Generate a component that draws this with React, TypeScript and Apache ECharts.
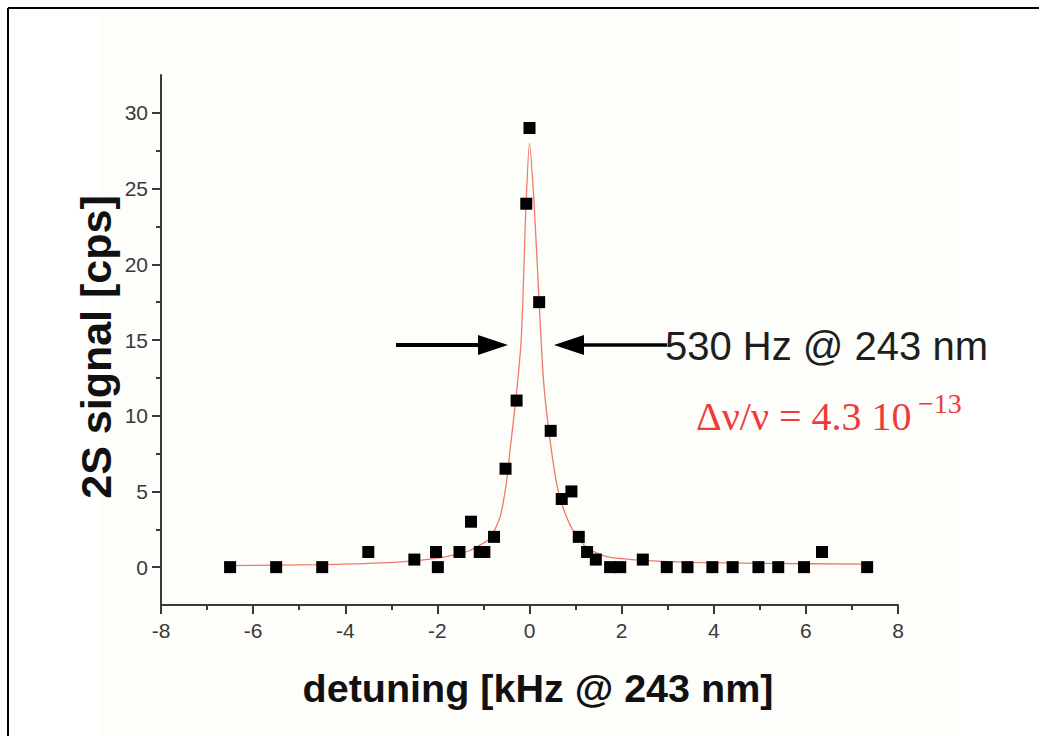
import { useEffect, useRef } from "react";
import * as echarts from "echarts";

// measured points: detuning [kHz] and 2S signal [cps]
const DETUNING = [
  -6.5, -5.5, -4.5, -3.5, -2.5, -2.03, -1.99, -1.52, -1.27, -1.08, -0.98, -0.77, -0.52, -0.28, -0.07, 0.0,
  0.21, 0.46, 0.7, 0.91, 1.07, 1.25, 1.44, 1.75, 1.97, 2.46, 2.98, 3.43, 3.97, 4.41, 4.97, 5.4, 5.96, 6.35, 7.33,
];
const SIGNAL = [
  0, 0, 0, 1, 0.5, 1, 0, 1, 3, 1, 1, 2, 6.5, 11, 24, 29,
  17.5, 9, 4.5, 5, 2, 1, 0.5, 0, 0, 0.5, 0, 0, 0, 0, 0, 0, 0, 1, 0,
];

// fitted line
const FIT_X = [
  -6.6, -5.5, -4.5, -3.5, -2.5, -2.0, -1.5, -1.29, -1.05, -0.86, -0.64, -0.51, -0.42, -0.3, -0.18, -0.08, 0.0,
  0.1, 0.21, 0.3, 0.42, 0.59, 0.72, 0.94, 1.24, 1.68, 2.46, 3.5, 5.0, 7.4,
];
const FIT_Y = [
  0.1, 0.13, 0.17, 0.25, 0.42, 0.6, 0.9, 1.1, 1.5, 1.9, 3.3, 5.4, 7.8, 11, 15, 23.5, 28,
  24, 17.5, 12.5, 9, 5.5, 4.0, 2.45, 1.3, 0.7, 0.45, 0.32, 0.25, 0.2,
];

const X_TICKS = [-8, -6, -4, -2, 0, 2, 4, 6, 8];
const Y_TICKS = [0, 5, 10, 15, 20, 25, 30];
const Y_MINOR_TICKS = [2.5, 7.5, 12.5, 17.5, 22.5, 27.5];

const X_LABEL = "detuning [kHz @ 243 nm]";
const Y_LABEL = "2S signal [cps]";
const WIDTH_NOTE = "530 Hz @ 243 nm";
const RATIO_NOTE = "\u0394\u03bd/\u03bd = 4.3 10";
const RATIO_EXP = "\u221213";

const AXIS_COLOR = "#3a3a3a";
const SANS = "Arial, 'Liberation Sans', Helvetica, sans-serif";
const SERIF = "'Times New Roman', 'Liberation Serif', serif";

export default function App() {
  const ref = useRef<HTMLDivElement>(null);

  useEffect(() => {
    document.body.style.margin = "0";
    if (!ref.current) return;
    const chart = echarts.init(ref.current, null, { renderer: "svg" });

    const points = DETUNING.map((x, i) => [x, SIGNAL[i]]);
    const fit = FIT_X.map((x, i) => [x, FIT_Y[i]]);

    const tickLabel = {
      fontSize: 21,
      color: "#3a3a3a",
      fontFamily: SANS,
    };

    chart.setOption({
      animation: false,
      backgroundColor: "#ffffff",
      grid: { left: 161, right: 141, top: 75, bottom: 131, containLabel: false },
      xAxis: {
        type: "value",
        min: -8,
        max: 8,
        interval: 2,
        axisLine: { show: true, onZero: false, lineStyle: { color: AXIS_COLOR, width: 2 } },
        axisTick: { show: true, length: 9, lineStyle: { color: AXIS_COLOR, width: 2 } },
        minorTick: { show: true, splitNumber: 2, length: 5, lineStyle: { color: AXIS_COLOR, width: 2 } },
        axisLabel: { ...tickLabel, margin: 15, customValues: X_TICKS },
        splitLine: { show: false },
        minorSplitLine: { show: false },
      },
      yAxis: [
        {
          type: "value",
          min: -2.5,
          max: 32.5,
          position: "left",
          axisLine: { show: true, onZero: false, lineStyle: { color: AXIS_COLOR, width: 2 } },
          axisTick: { show: true, length: 9, customValues: Y_TICKS, lineStyle: { color: AXIS_COLOR, width: 2 } },
          axisLabel: { ...tickLabel, margin: 13, customValues: Y_TICKS },
          splitLine: { show: false },
        },
        {
          type: "value",
          min: -2.5,
          max: 32.5,
          position: "left",
          offset: 0,
          axisLine: { show: false, onZero: false },
          axisTick: { show: true, length: 5, customValues: Y_MINOR_TICKS, lineStyle: { color: AXIS_COLOR, width: 2 } },
          axisLabel: { show: false },
          splitLine: { show: false },
        },
      ],
      series: [
        {
          type: "line",
          data: fit,
          showSymbol: false,
          smooth: 0.25,
          lineStyle: { color: "#f07a68", width: 1.3 },
          z: 2,
        },
        {
          type: "scatter",
          data: points,
          symbol: "rect",
          symbolSize: 12,
          itemStyle: { color: "#000", opacity: 1 },
          z: 3,
        },
      ],
      graphic: [
        // background tint
        {
          type: "rect",
          z: -10,
          silent: true,
          shape: { x: 100, y: 12, width: 860, height: 724 },
          style: { fill: "#fdfdfa" },
        },
        // frame
        {
          type: "line",
          shape: { x1: 8, y1: 8, x2: 1039, y2: 8 },
          style: { stroke: "#000", lineWidth: 2 },
        },
        {
          type: "line",
          shape: { x1: 8, y1: 8, x2: 8, y2: 736 },
          style: { stroke: "#000", lineWidth: 2 },
        },
        // axis titles
        {
          type: "text",
          x: 96,
          y: 347,
          rotation: Math.PI / 2,
          style: {
            text: Y_LABEL,
            align: "center",
            verticalAlign: "middle",
            font: `bold 43px ${SANS}`,
            fill: "#111",
          },
        },
        {
          type: "text",
          x: 538,
          y: 688,
          style: {
            text: X_LABEL,
            align: "center",
            verticalAlign: "middle",
            font: `bold 39.5px ${SANS}`,
            fill: "#111",
          },
        },
        // arrows
        {
          type: "line",
          shape: { x1: 396, y1: 345, x2: 482, y2: 345 },
          style: { stroke: "#000", lineWidth: 4 },
        },
        {
          type: "polygon",
          shape: { points: [[478, 335], [508, 345], [478, 355]] },
          style: { fill: "#000" },
        },
        {
          type: "polygon",
          shape: { points: [[584, 335], [554, 345], [584, 355]] },
          style: { fill: "#000" },
        },
        {
          type: "line",
          shape: { x1: 580, y1: 345, x2: 667, y2: 345 },
          style: { stroke: "#000", lineWidth: 3.5 },
        },
        {
          type: "text",
          x: 665,
          y: 346,
          style: {
            text: WIDTH_NOTE,
            align: "left",
            verticalAlign: "middle",
            font: `40px ${SANS}`,
            fill: "#1e1e1e",
          },
        },
        {
          type: "text",
          x: 696,
          y: 416,
          style: {
            text: RATIO_NOTE,
            align: "left",
            verticalAlign: "middle",
            font: `40px ${SERIF}`,
            fill: "#f03a3a",
          },
        },
        {
          type: "text",
          x: 918,
          y: 403,
          style: {
            text: RATIO_EXP,
            align: "left",
            verticalAlign: "middle",
            font: `28px ${SERIF}`,
            fill: "#f03a3a",
          },
        },
      ],
    });

    return () => chart.dispose();
  }, []);

  return <div ref={ref} style={{ width: 1039, height: 736 }} />;
}
